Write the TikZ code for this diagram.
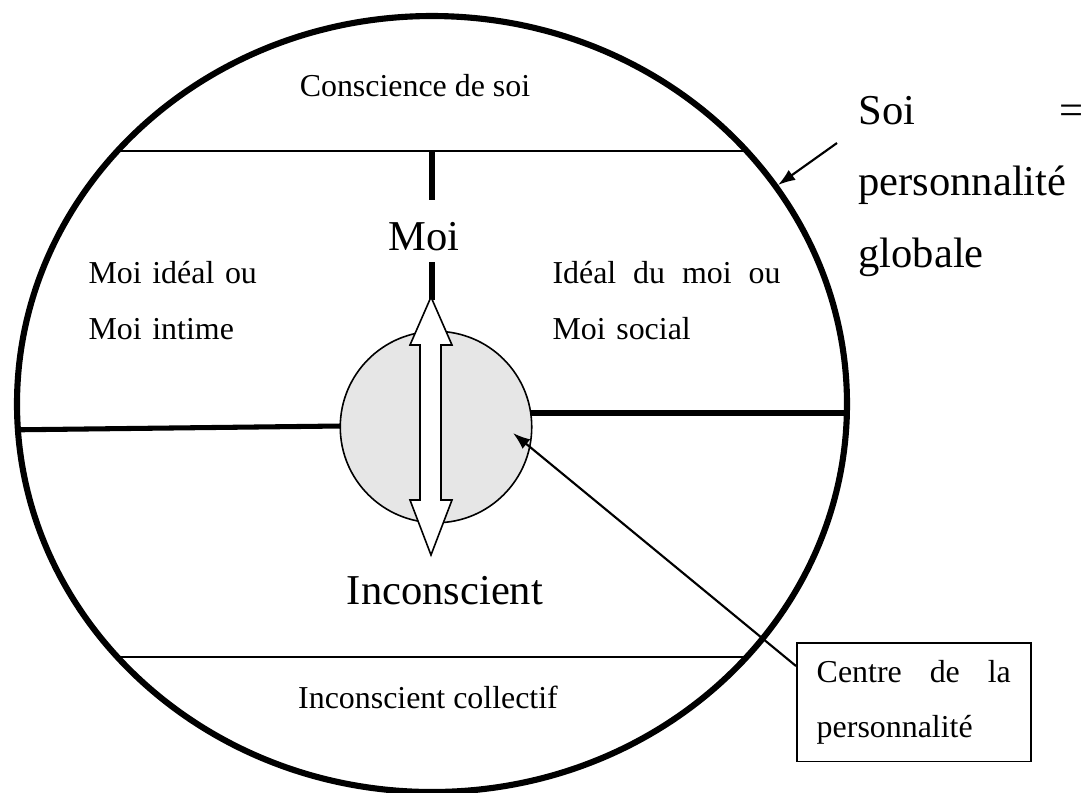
\documentclass[tikz,border=0pt]{standalone}
\usepackage{fontspec}
\setmainfont{Liberation Serif}
\usetikzlibrary{positioning}
\usetikzlibrary{arrows.meta}
\usetikzlibrary{calc}
\definecolor{centre-fill}{RGB}{230,230,230}

\begin{document}
\begin{tikzpicture}[x=0.376pt, y=-0.376pt, >={Latex[length=6.5pt,width=4.6pt]},
small/.style={font=\fontsize{12}{21.4}\selectfont},
big/.style={font=\fontsize{16}{26.9}\selectfont},
sep line/.style={line width=0.6pt},
heavy/.style={line width=2.6pt}]
\useasboundingbox (0,0) rectangle (1090,792);

% big ellipse = Soi
\draw[line width=2.3pt] (432,404) ellipse [x radius=415, y radius=388];

% separations inside the ellipse
\begin{scope}
\clip (432,404) ellipse [x radius=415, y radius=388];
\draw[sep line] (0,151) -- (1090,151);
\draw[sep line] (0,657) -- (1090,657);
\draw[line width=1.9pt] (0,430) -- (340,426);
\draw[heavy] (531,413) -- (1090,413);
\end{scope}

% Moi
\draw[heavy] (432,151) -- (432,200);
\draw[heavy] (432,262) -- (432,300);

%%%%%%%%%%%%%%%%%%%%%%%% centre
\node[circle, draw, sep line, fill=centre-fill, minimum size=72pt, inner sep=0] (centre) at (436,427) {};

% double arrow
\draw[sep line, fill=white] (431,297) -- (452,345) -- (441,345) -- (441,500) -- (452,500)
  -- (431,555) -- (410,500) -- (420,500) -- (420,345) -- (410,345) -- cycle;

% texts
\node[small, anchor=base] (cds) at (415,96) {Conscience de soi};
\node[big, anchor=base] (moi) at (424,250) {Moi};
\node[small, anchor=base west, align=left, text width=70pt, inner sep=0] (moiideal) at (88,283) {Moi idéal ou\\Moi intime};
\node[small, anchor=base west, align=left, text width=85.7pt, inner sep=0] (idealmoi) at (552,283) {Idéal\hfill du\hfill moi\hfill ou\\Moi social};
\node[big, anchor=base] (incons) at (445,604) {Inconscient};
\node[small, anchor=base] (collectif) at (428,708) {Inconscient collectif};
\node[big, anchor=base west, align=left, text width=84.6pt, inner sep=0] (soi) at (858,124) {Soi\hfill=\\personnalité\\globale};

% box
\node[draw, sep line, anchor=north west, text width=73pt, inner xsep=7.5pt, minimum height=44.7pt, align=left,
  font=\fontsize{12}{20.7}\selectfont] (box) at (796,642) {Centre\hfill de\hfill la\\personnalité};

% arrows
\coordinate (soistart) at (837,143);
\coordinate (soitip) at (778,185);
\draw[->, line width=0.8pt] (soistart) -- (soitip);
\coordinate (centretip) at (513,433);
\draw[->, line width=0.8pt] ($(box.north west)+(0,24)$) -- (centretip);

\end{tikzpicture}
\end{document}
